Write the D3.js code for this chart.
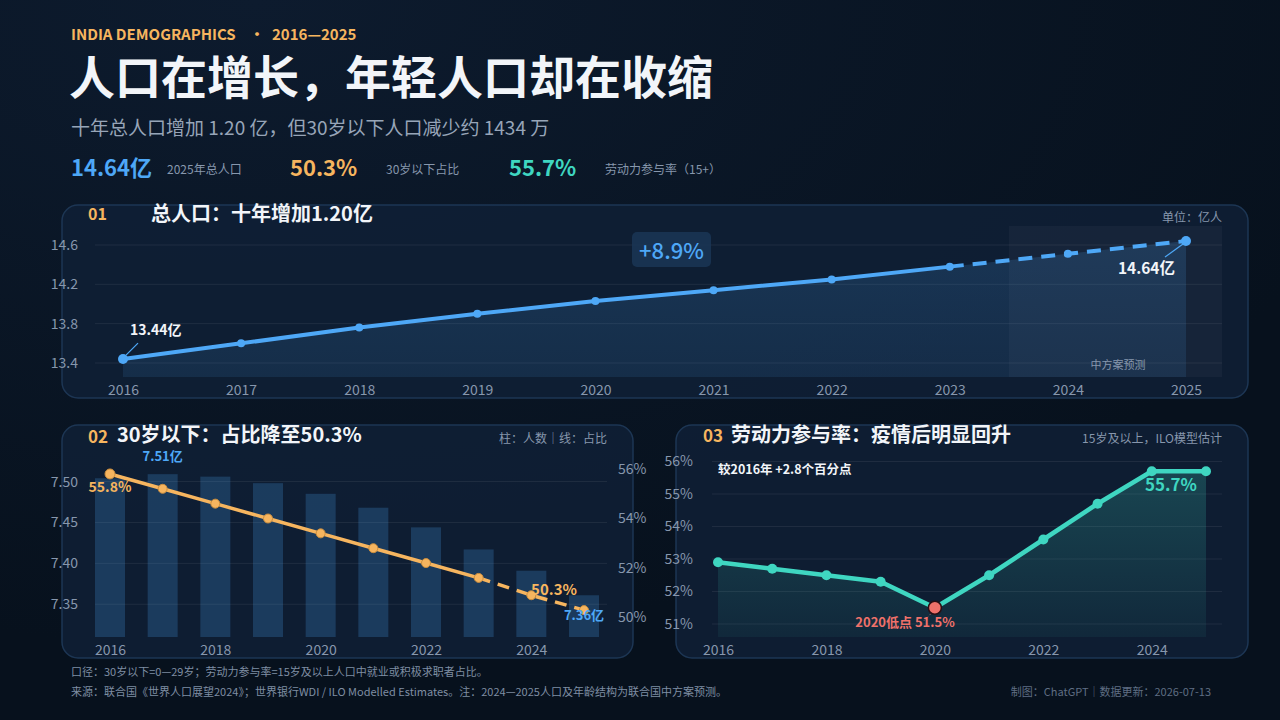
<!DOCTYPE html>
<html>
<head>
<meta charset="utf-8">
<script src="https://cdn.jsdelivr.net/npm/d3@7"></script>
<style>
  html, body { margin: 0; background: #0a1524; }
  svg { display: block; font-family: "Noto Sans CJK SC", "Noto Sans", sans-serif; }
</style>
</head>
<body>
<svg id="chart" width="1280" height="720"></svg>
<script>
// ---- data ----
const years = [2016, 2017, 2018, 2019, 2020, 2021, 2022, 2023, 2024, 2025]
const lastActualYear = 2023   // 2024-2025 are UN medium-variant projections
const popTotal = [13.44, 13.60, 13.76, 13.90, 14.03, 14.14, 14.25, 14.38, 14.51, 14.64]   // 亿人
const under30Pop = [7.504, 7.509, 7.506, 7.498, 7.485, 7.468, 7.444, 7.417, 7.391, 7.361] // 亿人
const under30Share = [55.8, 55.2, 54.6, 54.0, 53.4, 52.8, 52.2, 51.6, 50.9, 50.3]        // %
const lfpr = [52.9, 52.7, 52.5, 52.3, 51.5, 52.5, 53.6, 54.7, 55.7, 55.7]                 // %

const popTicks = [13.4, 13.8, 14.2, 14.6]
const u30Ticks = [7.35, 7.40, 7.45, 7.50]
const shareTicks = [50, 52, 54, 56]
const lfprTicks = [51, 52, 53, 54, 55, 56]
const evenYears = [2016, 2018, 2020, 2022, 2024]

// ---- colours ----
const BLUE = "#4ea8f7", ORANGE = "#f6b55f", TEAL = "#3fd6c1", RED = "#f0716a"
const WHITE = "#f2f5f9", GRAY = "#8797ad", GRID = "rgba(255,255,255,0.07)"

const svg = d3.select("#chart")
const defs = svg.append("defs")

function vGrad(id, color, a0, a1) {
    let g = defs.append("linearGradient").attr("id", id)
        .attr("x1", 0).attr("y1", 0).attr("x2", 0).attr("y2", 1)
    g.append("stop").attr("offset", "0%").attr("stop-color", color).attr("stop-opacity", a0)
    g.append("stop").attr("offset", "100%").attr("stop-color", color).attr("stop-opacity", a1)
}
vGrad("blueArea", BLUE, 0.17, 0.11)
vGrad("tealArea", TEAL, 0.22, 0.06)

let bg = defs.append("radialGradient").attr("id", "bgGlow")
    .attr("cx", "20%").attr("cy", "0%").attr("r", "90%")
bg.append("stop").attr("offset", "0%").attr("stop-color", "#0d1b2e")
bg.append("stop").attr("offset", "100%").attr("stop-color", "#07111d")

svg.append("rect").attr("width", 1280).attr("height", 720).attr("fill", "url(#bgGlow)")

function label(g, x, y, text, o = {}) {
    return g.append("text")
        .attr("x", x).attr("y", y)
        .attr("dominant-baseline", "central")
        .attr("text-anchor", o.anchor || "start")
        .attr("fill", o.fill || WHITE)
        .style("font-size", (o.size || 12) + "px")
        .style("font-weight", o.weight || 400)
        .text(text)
}

function card(x, y, w, h) {
    svg.append("rect")
        .attr("x", x).attr("y", y).attr("width", w).attr("height", h)
        .attr("rx", 16)
        .attr("fill", "#0f2036")
        .attr("fill-opacity", 0.85)
        .attr("stroke", "#1d3654")
        .attr("stroke-width", 1.5)
}

function styleAxis(g, size) {
    g.select(".domain").remove()
    g.selectAll(".tick line").remove()
    g.selectAll("text")
        .attr("fill", GRAY)
        .style("font-size", (size || 14) + "px")
        .style("font-family", '"Noto Sans CJK SC", sans-serif')
}

/* ---------- header ---------- */
let head = svg.append("g")
label(head, 71, 33, "INDIA DEMOGRAPHICS", { fill: ORANGE, size: 15, weight: 700 })
label(head, 257, 33, "·", { fill: ORANGE, size: 15, weight: 700, anchor: "middle" })
label(head, 272, 33, "2016—2025", { fill: ORANGE, size: 15, weight: 700 })
label(head, 69, 74, "人口在增长，年轻人口却在收缩", { size: 46, weight: 700 })
label(head, 71, 126, "十年总人口增加 1.20 亿，但30岁以下人口减少约 1434 万", { fill: "#97a5b8", size: 19 })

label(head, 71, 166, "14.64亿", { fill: BLUE, size: 22, weight: 700 })
label(head, 167, 168, "2025年总人口", { fill: GRAY, size: 12 })
label(head, 290, 166, "50.3%", { fill: ORANGE, size: 22, weight: 700 })
label(head, 386, 168, "30岁以下占比", { fill: GRAY, size: 12 })
label(head, 509, 166, "55.7%", { fill: TEAL, size: 22, weight: 700 })
label(head, 605, 168, "劳动力参与率（15+）", { fill: GRAY, size: 12 })

/* ---------- panel 01: total population ---------- */
card(62, 205, 1186, 193)
let p1 = svg.append("g").attr("id", "panel1")
let x1 = d3.scaleLinear().domain([2016, 2025]).range([123, 1186])
let y1 = d3.scaleLinear().domain([13.4, 14.6]).range([363, 245])
const p1Bottom = 377

// projection band
let bandX = (x1(lastActualYear) + x1(lastActualYear + 1)) / 2
p1.append("rect")
    .attr("x", bandX).attr("y", 226)
    .attr("width", 1222 - bandX)
    .attr("height", p1Bottom - 226)
    .attr("fill", "#ffffff").attr("fill-opacity", 0.035)

p1.selectAll(".grid").data(popTicks).enter().append("line")
    .attr("x1", 95).attr("x2", 1222)
    .attr("y1", d => y1(d)).attr("y2", d => y1(d))
    .attr("stroke", GRID)

let popPts = years.map((yr, i) => ({ yr, v: popTotal[i] }))

p1.append("path")
    .datum(popPts)
    .attr("fill", "url(#blueArea)")
    .attr("d", d3.area().x(d => x1(d.yr)).y0(p1Bottom).y1(d => y1(d.v)))

p1.append("path")
    .datum(popPts.filter(d => d.yr <= lastActualYear))
    .attr("fill", "none").attr("stroke", BLUE).attr("stroke-width", 4)
    .attr("stroke-linecap", "round")
    .attr("d", d3.line().x(d => x1(d.yr)).y(d => y1(d.v)))

p1.append("path")
    .datum(popPts.filter(d => d.yr >= lastActualYear))
    .attr("fill", "none").attr("stroke", BLUE).attr("stroke-width", 4)
    .attr("stroke-dasharray", "14 9")
    .attr("d", d3.line().x(d => x1(d.yr)).y(d => y1(d.v)))

p1.selectAll(".dot").data(popPts).enter().append("circle")
    .attr("cx", d => x1(d.yr)).attr("cy", d => y1(d.v))
    .attr("r", (d, i) => (i == 0 || i == popPts.length - 1) ? 5 : 4)
    .attr("fill", BLUE)

p1.append("g").attr("transform", "translate(82,0)")
    .call(d3.axisLeft(y1).tickValues(popTicks).tickFormat(d3.format(".1f")).tickSize(0).tickPadding(4))
    .call(g => styleAxis(g, 14))

p1.append("g").attr("transform", `translate(0,${p1Bottom})`)
    .call(d3.axisBottom(x1).tickValues(years).tickFormat(d3.format("d")).tickSize(0).tickPadding(8))
    .call(g => styleAxis(g, 14))

// annotations
let first = popPts[0], last = popPts[popPts.length - 1]
p1.append("line")
    .attr("x1", x1(first.yr) + 3).attr("y1", y1(first.v) - 4)
    .attr("x2", x1(first.yr) + 15).attr("y2", y1(first.v) - 16)
    .attr("stroke", BLUE).attr("stroke-width", 1.2)
label(p1, 130, 329, first.v.toFixed(2) + "亿", { size: 14, weight: 700 })
p1.append("line")
    .attr("x1", x1(last.yr) - 3).attr("y1", y1(last.v) + 3)
    .attr("x2", x1(last.yr) - 21).attr("y2", y1(last.v) + 16)
    .attr("stroke", BLUE).attr("stroke-width", 1.2)
label(p1, 1175, 267, last.v.toFixed(2) + "亿", { size: 15.5, weight: 700, anchor: "end" })

let growth = (last.v - first.v) / first.v * 100
p1.append("rect").attr("x", 632).attr("y", 232).attr("width", 79).attr("height", 35).attr("rx", 5)
    .attr("fill", "#1a3656").attr("fill-opacity", 0.85)
label(p1, 671.5, 249, "+" + growth.toFixed(1) + "%", { fill: BLUE, size: 22, weight: 500, anchor: "middle" })

label(p1, 1118, 364, "中方案预测", { fill: GRAY, size: 11, anchor: "middle" })
label(p1, 1222, 216, "单位：亿人", { fill: GRAY, size: 12, anchor: "end" })
label(p1, 88, 213, "01", { fill: ORANGE, size: 16, weight: 700 })
label(p1, 151, 212, "总人口：十年增加1.20亿", { size: 20, weight: 700 })

/* ---------- panel 02: under-30 ---------- */
card(62, 425, 571, 233)
let p2 = svg.append("g").attr("id", "panel2")
let x2 = d3.scaleLinear().domain([2016, 2025]).range([110, 584])
let yL = d3.scaleLinear().domain([7.31, 7.53]).range([637, 457])
let yR = d3.scaleLinear().domain([50, 56]).range([617.5, 469])
const p2Bottom = 637

p2.selectAll(".grid").data(u30Ticks).enter().append("line")
    .attr("x1", 95).attr("x2", 607)
    .attr("y1", d => yL(d)).attr("y2", d => yL(d))
    .attr("stroke", GRID)

let u30 = years.map((yr, i) => ({ yr, pop: under30Pop[i], share: under30Share[i] }))

p2.selectAll(".bar").data(u30).enter().append("rect")
    .attr("x", d => x2(d.yr) - 15).attr("width", 30)
    .attr("y", d => yL(d.pop)).attr("height", d => p2Bottom - yL(d.pop))
    .attr("fill", BLUE).attr("fill-opacity", 0.22)

p2.append("path")
    .datum(u30.filter(d => d.yr <= lastActualYear))
    .attr("fill", "none").attr("stroke", ORANGE).attr("stroke-width", 3.5)
    .attr("d", d3.line().x(d => x2(d.yr)).y(d => yR(d.share)))
p2.append("path")
    .datum(u30.filter(d => d.yr >= lastActualYear))
    .attr("fill", "none").attr("stroke", ORANGE).attr("stroke-width", 3.5)
    .attr("stroke-dasharray", "12 8")
    .attr("d", d3.line().x(d => x2(d.yr)).y(d => yR(d.share)))
p2.selectAll(".dot").data(u30).enter().append("circle")
    .attr("cx", d => x2(d.yr)).attr("cy", d => yR(d.share))
    .attr("r", (d, i) => i == 0 ? 5 : 4.5)
    .attr("fill", ORANGE).attr("stroke", "#c98d3e").attr("stroke-width", 1)

p2.append("g").attr("transform", "translate(82,0)")
    .call(d3.axisLeft(yL).tickValues(u30Ticks).tickFormat(d3.format(".2f")).tickSize(0).tickPadding(4))
    .call(g => styleAxis(g, 14))
p2.append("g").attr("transform", "translate(612,0)")
    .call(d3.axisRight(yR).tickValues(shareTicks).tickFormat(d => d + "%").tickSize(0).tickPadding(6))
    .call(g => styleAxis(g, 14))
p2.append("g").attr("transform", `translate(0,${p2Bottom})`)
    .call(d3.axisBottom(x2).tickValues(evenYears).tickFormat(d3.format("d")).tickSize(0).tickPadding(8))
    .call(g => styleAxis(g, 14))

let peak = u30.reduce((a, b) => b.pop > a.pop ? b : a)
label(p2, x2(peak.yr), 455, peak.pop.toFixed(2) + "亿", { fill: BLUE, size: 13, weight: 700, anchor: "middle" })
label(p2, x2(u30[0].yr), 486, u30[0].share.toFixed(1) + "%", { fill: ORANGE, size: 14, weight: 700, anchor: "middle" })
let u30Last = u30[u30.length - 1]
label(p2, 554, 588, u30Last.share.toFixed(1) + "%", { fill: ORANGE, size: 15, weight: 700, anchor: "middle" })
label(p2, x2(u30Last.yr), 614, u30Last.pop.toFixed(2) + "亿", { fill: BLUE, size: 13, weight: 700, anchor: "middle" })

label(p2, 88, 435, "02", { fill: ORANGE, size: 17, weight: 700 })
label(p2, 117, 433, "30岁以下：占比降至50.3%", { size: 20, weight: 700 })
label(p2, 607, 437, "柱：人数｜线：占比", { fill: GRAY, size: 12, anchor: "end" })

/* ---------- panel 03: labour force participation ---------- */
card(676, 425, 572, 233)
let p3 = svg.append("g").attr("id", "panel3")
let x3 = d3.scaleLinear().domain([2016, 2025]).range([718, 1206])
let y3 = d3.scaleLinear().domain([51, 56]).range([624, 461.5])
const p3Bottom = 637

p3.selectAll(".grid").data(lfprTicks).enter().append("line")
    .attr("x1", 712).attr("x2", 1222)
    .attr("y1", d => y3(d)).attr("y2", d => y3(d))
    .attr("stroke", GRID)

let lf = years.map((yr, i) => ({ yr, v: lfpr[i] }))

p3.append("path")
    .datum(lf)
    .attr("fill", "url(#tealArea)")
    .attr("d", d3.area().x(d => x3(d.yr)).y0(p3Bottom).y1(d => y3(d.v)))
p3.append("path")
    .datum(lf)
    .attr("fill", "none").attr("stroke", TEAL).attr("stroke-width", 4.5)
    .attr("stroke-linejoin", "round")
    .attr("d", d3.line().x(d => x3(d.yr)).y(d => y3(d.v)))

let low = lf.reduce((a, b) => b.v < a.v ? b : a)
p3.selectAll(".dot").data(lf.filter(d => d !== low)).enter().append("circle")
    .attr("cx", d => x3(d.yr)).attr("cy", d => y3(d.v))
    .attr("r", 5).attr("fill", TEAL)

p3.append("line")
    .attr("x1", x3(low.yr) - 4).attr("y1", y3(low.v) + 6)
    .attr("x2", x3(low.yr) - 12).attr("y2", y3(low.v) + 14)
    .attr("stroke", RED).attr("stroke-opacity", 0.6).attr("stroke-dasharray", "2 2")
p3.append("circle")
    .attr("cx", x3(low.yr)).attr("cy", y3(low.v))
    .attr("r", 6.5).attr("fill", RED).attr("stroke", "#2a0f14").attr("stroke-width", 1.5)
label(p3, 905, 621, low.yr + "低点 " + low.v.toFixed(1) + "%", { fill: RED, size: 13, weight: 700, anchor: "middle" })

let lfLast = lf[lf.length - 1]
label(p3, 1171, 483, lfLast.v.toFixed(1) + "%", { fill: TEAL, size: 17, weight: 700, anchor: "middle" })
label(p3, 718, 468, "较2016年 +" + (lfLast.v - lf[0].v).toFixed(1) + "个百分点", { size: 12.5, weight: 700 })

p3.append("g").attr("transform", "translate(697,0)")
    .call(d3.axisLeft(y3).tickValues(lfprTicks).tickFormat(d => d + "%").tickSize(0).tickPadding(4))
    .call(g => styleAxis(g, 14))
p3.append("g").attr("transform", `translate(0,${p3Bottom})`)
    .call(d3.axisBottom(x3).tickValues(evenYears).tickFormat(d3.format("d")).tickSize(0).tickPadding(8))
    .call(g => styleAxis(g, 14))

label(p3, 703, 434, "03", { fill: ORANGE, size: 17, weight: 700 })
label(p3, 731, 433, "劳动力参与率：疫情后明显回升", { size: 20, weight: 700 })
label(p3, 1222, 437, "15岁及以上，ILO模型估计", { fill: GRAY, size: 12, anchor: "end" })

/* ---------- footer ---------- */
let foot = svg.append("g")
label(foot, 71, 671, "口径：30岁以下=0—29岁；劳动力参与率=15岁及以上人口中就业或积极求职者占比。", { fill: "#7f8ea3", size: 11 })
label(foot, 71, 691, "来源：联合国《世界人口展望2024》；世界银行WDI / ILO Modelled Estimates。注：2024—2025人口及年龄结构为联合国中方案预测。", { fill: "#7f8ea3", size: 11 })
label(foot, 1211, 691, "制图：ChatGPT｜数据更新：2026-07-13", { fill: "#5f6e83", size: 11, anchor: "end" })
</script>
</body>
</html>
